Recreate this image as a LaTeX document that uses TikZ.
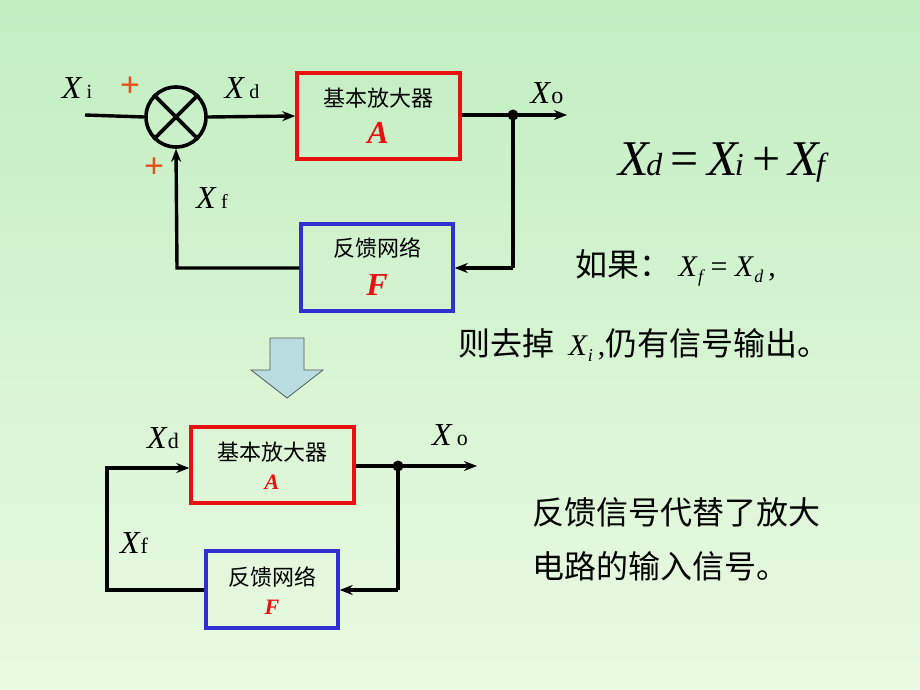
\documentclass[tikz,border=0pt]{standalone}
\usepackage{fontspec}
\setmainfont{Liberation Serif}
\newfontfamily\cjk{Noto Sans CJK SC}
\newfontfamily\hei{Liberation Sans}
\usetikzlibrary{arrows.meta}
\definecolor{bgA}{HTML}{C2EEC2}
\definecolor{bgB}{HTML}{EAFAE2}
\definecolor{pl}{HTML}{E8501E}
\definecolor{ared}{HTML}{E81010}
\definecolor{fblue}{HTML}{3030D0}
\definecolor{barrow}{HTML}{B8DCE0}
\begin{document}
\begin{tikzpicture}[x=1pt,y=-1pt,
  wire/.style={line width=3.4pt,black},
  arr/.style={wire,-{Stealth[length=13pt,width=10pt]}},
  boxa/.style={draw=ared,line width=3.4pt,inner sep=0pt},
  boxf/.style={draw=fblue,line width=3.4pt,inner sep=0pt},
  cjt/.style={font=\cjk\fontsize{22}{24}\selectfont},
  big/.style={font=\cjk\fontsize{32}{36}\selectfont,anchor=west,inner sep=0pt},
  lab/.style={font=\fontsize{32}{34}\selectfont\itshape,inner sep=0pt},
  plus/.style={text=pl,font=\hei\fontsize{34}{34}\selectfont,inner sep=0pt}]
\shade[left color=bgA,right color=bgB,shading angle=0] (0,0) rectangle (920,690);
\useasboundingbox (0,0) rectangle (920,690);
% top diagram
\node[draw,circle,line width=3.6pt,minimum size=60pt,inner sep=0pt] (sum) at (176,117) {};
\draw[line width=3.6pt] (sum.45) -- (sum.225) (sum.135) -- (sum.-45);
\coordinate (xi) at (85,115);
\draw[wire] (xi) -- (sum.west);
\node[lab] (lxi) at (77,88) {X\,\textup{\fontsize{20}{20}\selectfont i}};
\node[plus] (p1) at (130,87) {+};
\node[plus] (p2) at (154,168) {+};
\node[boxa,minimum width=163pt,minimum height=86pt] (A) at (378.5,116) {};
\node[cjt] (At) at (378,98) {基本放大器};
\node[text=ared,font=\fontsize{32}{32}\selectfont\bfseries\itshape] (Aa) at (378,133) {A};
\draw[arr] (sum.east) -- (A.west);
\node[lab] (lxd) at (242,88) {X\,\textup{\fontsize{20}{20}\selectfont d}};
\coordinate (dot) at (513,115);
\coordinate (out) at (567,115);
\draw[wire] (A.east|-dot) -- (dot);
\draw[arr] (dot) -- (out);
\fill (dot) circle (5.5pt);
\node[lab] (lxo) at (547,93) {X\textup{\fontsize{24}{24}\selectfont o}};
\node[boxf,minimum width=152pt,minimum height=87pt] (F) at (377,267.5) {};
\node[cjt] (Ft) at (377,248) {反馈网络};
\node[text=ared,font=\fontsize{32}{32}\selectfont\bfseries\itshape] (Ff) at (377,285) {F};
\coordinate (c1) at (513,268);
\draw[wire] (dot) -- (c1);
\draw[arr] (c1) -- (F.east|-c1);
\coordinate (c2) at (177,268);
\draw[arr] (F.west|-c2) -- (c2) -- (sum.south);
\node[lab] (lxf) at (212,198) {X\,\textup{\fontsize{20}{20}\selectfont f}};
% equation
\node[inner sep=0pt,font=\fontsize{50}{52}\selectfont] (eq) at (722,163) {\itshape X\kern-3pt\fontsize{32}{32}\selectfont d\fontsize{50}{52}\selectfont\upshape\,=\,\itshape X\kern-3pt\fontsize{32}{32}\selectfont i\fontsize{50}{52}\selectfont\upshape\,+\,\itshape X\kern-3pt\fontsize{32}{32}\selectfont f};
\node[big] (t1) at (575,268) {如果：\fontsize{30}{32}\selectfont\rmfamily\itshape\ X\kern1pt\raisebox{-6pt}{\fontsize{18}{18}\selectfont f}\ \upshape =\ \itshape X\kern1pt\raisebox{-6pt}{\fontsize{18}{18}\selectfont d}\upshape\,,};
\node[big] (t2) at (458,345) {则去掉\ \ \fontsize{30}{32}\selectfont\rmfamily\itshape X\kern1pt\raisebox{-6pt}{\fontsize{18}{18}\selectfont i}\upshape\,,\cjk\fontsize{32}{36}\selectfont 仍有信号输出。};
% block arrow
\draw[gray!70!black,line width=0.8pt,fill=barrow] (270,338) -- (304,338) -- (304,370) -- (323,370) -- (287,398) -- (251,370) -- (270,370) -- cycle;
% bottom diagram
\node[boxa,minimum width=163pt,minimum height=76pt] (A2) at (272.5,465) {};
\node[cjt] (A2t) at (272,452) {基本放大器};
\node[text=ared,font=\fontsize{22}{22}\selectfont\bfseries\itshape] (A2a) at (272,482) {A};
\node[boxf,minimum width=132pt,minimum height=77pt] (F2) at (272,589.5) {};
\node[cjt] (F2t) at (272,577) {反馈网络};
\node[text=ared,font=\fontsize{22}{22}\selectfont\bfseries\itshape] (F2f) at (272,607) {F};
\coordinate (d2) at (398,466);
\coordinate (o2) at (477,466);
\draw[wire] (A2.east|-d2) -- (d2);
\draw[arr] (d2) -- (o2);
\fill (d2) circle (5.5pt);
\coordinate (e2) at (398,590);
\draw[wire] (d2) -- (e2);
\draw[arr] (e2) -- (F2.east|-e2);
\coordinate (g2) at (107,590);
\coordinate (h2) at (107,468);
\draw[arr] (F2.west|-g2) -- (g2) -- (h2) -- (A2.west|-h2);
\node[lab] (l2d) at (163,438) {X\textup{\fontsize{22}{22}\selectfont d}};
\node[lab] (l2o) at (450,435) {X\,\textup{\fontsize{22}{22}\selectfont o}};
\node[lab] (l2f) at (134,543) {X\textup{\fontsize{22}{22}\selectfont f}};
\node[big] (t3) at (532,512) {反馈信号代替了放大};
\node[big] (t4) at (532,566) {电路的输入信号。};
\end{tikzpicture}
\end{document}
